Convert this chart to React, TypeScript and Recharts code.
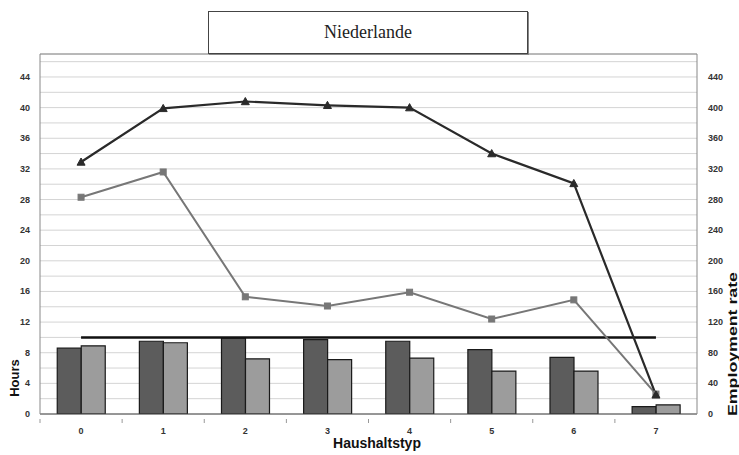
import React from 'react';
import {
  ComposedChart,
  Bar,
  Line,
  XAxis,
  YAxis,
  CartesianGrid,
  ReferenceLine,
} from 'recharts';

// ---- data ----
const categories = ['0', '1', '2', '3', '4', '5', '6', '7'];
// employment rates (right axis)
const employmentDark = [86, 95, 99, 97, 95, 84, 74, 9.5];
const employmentLight = [89, 93, 72, 71, 73, 56, 56, 12];
const fullEmployment = [100, 100, 100, 100, 100, 100, 100, 100];
// hours (left axis)
const hoursTriangle = [32.9, 39.9, 40.8, 40.3, 40.0, 34.0, 30.1, 2.5];
const hoursSquare = [28.3, 31.6, 15.3, 14.1, 15.9, 12.4, 14.9, 2.6];

const leftTicks = [0, 2, 4, 6, 8, 10, 12, 14, 16, 18, 20, 22, 24, 26, 28, 30, 32, 34, 36, 38, 40, 42, 44, 46];
const rightTicks = [0, 40, 80, 120, 160, 200, 240, 280, 320, 360, 400, 440];

const data = categories.map((c, i) => ({
  cat: c,
  empA: employmentDark[i],
  empB: employmentLight[i],
  full: fullEmployment[i],
  hA: hoursTriangle[i],
  hB: hoursSquare[i],
}));

const FONT = '"Liberation Sans", Arial, sans-serif';

const LeftTick = (props: any) => {
  const { x, y, payload } = props;
  if (payload.value % 4 !== 0) return null;
  return (
    <text x={x - 2} y={y} dy={3} textAnchor="end" fontSize={9} fontWeight="bold" fill="#333" fontFamily={FONT}>
      {payload.value}
    </text>
  );
};

const RightTick = (props: any) => {
  const { x, y, payload } = props;
  return (
    <text x={x + 3} y={y} dy={3} textAnchor="start" fontSize={9} fontWeight="bold" fill="#333" fontFamily={FONT}>
      {payload.value}
    </text>
  );
};

const XTick = (props: any) => {
  const { x, y, payload } = props;
  const off = payload && payload.offset ? payload.offset : 41;
  return (
    <g>
      <line x1={x - off} x2={x - off} y1={y - 3} y2={y + 1} stroke="#999" strokeWidth={1} />
      <text x={x} y={y + 12} textAnchor="middle" fontSize={9} fontWeight="bold" fill="#333" fontFamily={FONT}>
        {payload.value}
      </text>
    </g>
  );
};

const TriangleDot = (props: any) => {
  const { cx, cy } = props;
  if (cx == null || cy == null) return null;
  const s = 4;
  return (
    <polygon
      points={`${cx},${cy - s} ${cx - s},${cy + s * 0.8} ${cx + s},${cy + s * 0.8}`}
      fill="#2a2a2a"
      stroke="#2a2a2a"
    />
  );
};

const SquareDot = (props: any) => {
  const { cx, cy } = props;
  if (cx == null || cy == null) return null;
  return <rect x={cx - 3} y={cy - 3} width={6} height={6} fill="#777" stroke="#777" />;
};

export default function App() {
  return (
    <div style={{ position: 'absolute', left: 0, top: 0, width: 739, height: 455, background: '#fff' }}>
      <ComposedChart
        width={739}
        height={455}
        data={data}
        margin={{ top: 54, right: 0, bottom: 0, left: 0 }}
        barGap={0}
        barCategoryGap="21%"
      >
        <CartesianGrid yAxisId="left" vertical={false} stroke="#d4d4d4" strokeWidth={1} />
        <XAxis
          dataKey="cat"
          height={41}
          tick={<XTick />}
          tickLine={false}
          axisLine={{ stroke: '#444', strokeWidth: 1 }}
          interval={0}
          label={{
            content: () => (
              <text x={377} y={448} textAnchor="middle" fontSize={14} fontWeight="bold" fill="#111" fontFamily={FONT}>
                Haushaltstyp
              </text>
            ),
          }}
        />
        <YAxis
          yAxisId="left"
          orientation="left"
          width={40}
          domain={[0, 47]}
          ticks={leftTicks}
          interval={0}
          tick={<LeftTick />}
          tickLine={false}
          axisLine={{ stroke: '#888', strokeWidth: 1 }}
          allowDataOverflow
          label={{
            content: () => (
              <text
                x={0}
                y={0}
                transform="translate(19 378) rotate(-90)"
                textAnchor="middle"
                fontSize={13}
                fontWeight="bold"
                fill="#111"
                fontFamily={FONT}
              >
                Hours
              </text>
            ),
          }}
        />
        <YAxis
          yAxisId="right"
          orientation="right"
          width={42}
          domain={[0, 470]}
          ticks={rightTicks}
          interval={0}
          tick={<RightTick />}
          tickLine={false}
          axisLine={{ stroke: '#888', strokeWidth: 1 }}
          allowDataOverflow
          label={{
            content: () => (
              <text
                x={0}
                y={0}
                transform="translate(737 344) rotate(-90)"
                textAnchor="middle"
                fontSize={13}
                fontWeight="bold"
                fill="#111"
                fontFamily={FONT}
                textLength={144}
                lengthAdjust="spacingAndGlyphs"
              >
                Employment rate
              </text>
            ),
          }}
        />
        <ReferenceLine yAxisId="left" y={47} stroke="#888" strokeWidth={1} />
        <Bar yAxisId="right" dataKey="empA" fill="#5c5c5c" stroke="#1a1a1a" strokeWidth={1.2} isAnimationActive={false} />
        <Bar yAxisId="right" dataKey="empB" fill="#9c9c9c" stroke="#1a1a1a" strokeWidth={1.2} isAnimationActive={false} />
        <Line
          yAxisId="right"
          dataKey="full"
          stroke="#111"
          strokeWidth={2.5}
          dot={false}
          isAnimationActive={false}
        />
        <Line
          yAxisId="left"
          dataKey="hB"
          stroke="#777"
          strokeWidth={2}
          dot={<SquareDot />}
          isAnimationActive={false}
        />
        <Line
          yAxisId="left"
          dataKey="hA"
          stroke="#2a2a2a"
          strokeWidth={2.2}
          dot={<TriangleDot />}
          isAnimationActive={false}
        />
      </ComposedChart>
      <div
        style={{
          position: 'absolute',
          left: 208,
          top: 11,
          width: 318,
          height: 41,
          border: '1.5px solid #444',
          boxShadow: '1px 1px 0 #888',
          background: '#fff',
          display: 'flex',
          alignItems: 'center',
          justifyContent: 'center',
          fontFamily: '"Liberation Serif", "Times New Roman", serif',
          fontSize: 18,
          color: '#222',
          boxSizing: 'content-box',
        }}
      >
        Niederlande
      </div>
    </div>
  );
}
